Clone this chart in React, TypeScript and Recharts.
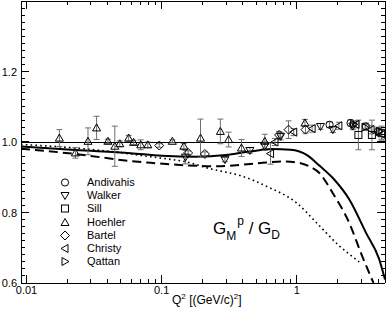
import React from "react";
import {
  ComposedChart,
  Line,
  Scatter,
  XAxis,
  YAxis,
  ReferenceLine,
  ErrorBar,
} from "recharts";

// model curves: Q^2 [(GeV/c)^2] and G_M^p / G_D
const solidQ2 = [0.0091, 0.023, 0.059, 0.1, 0.18, 0.3, 0.45, 0.65, 0.9, 1.2, 1.47, 1.9, 2.45, 3.25, 4.07, 4.5];
const solidRatio = [0.987, 0.977, 0.968, 0.961, 0.958, 0.963, 0.973, 0.98, 0.978, 0.962, 0.933, 0.893, 0.837, 0.743, 0.668, 0.61];

const dashedQ2 = [0.0091, 0.023, 0.059, 0.083, 0.15, 0.25, 0.4, 0.6, 0.8, 1.04, 1.25, 1.47, 1.84, 2.45, 3.05, 3.7];
const dashedRatio = [0.981, 0.966, 0.946, 0.941, 0.934, 0.931, 0.936, 0.942, 0.945, 0.941, 0.93, 0.912, 0.856, 0.77, 0.676, 0.6];

const dottedQ2 = [0.0091, 0.023, 0.059, 0.083, 0.12, 0.163, 0.21, 0.27, 0.38, 0.6, 1.0, 1.4, 2.07, 2.9];
const dottedRatio = [0.993, 0.983, 0.966, 0.958, 0.95, 0.941, 0.928, 0.918, 0.905, 0.874, 0.827, 0.771, 0.705, 0.66];

// measurements
const andivahisQ2 = [1.75, 2.5, 3.25, 4.0];
const andivahisRatio = [1.049, 1.054, 1.044, 1.03];
const andivahisErr = [0.008, 0.009, 0.01, 0.012];

const walkerQ2 = [0.15, 0.294, 0.45, 0.58, 0.76, 1.5, 1.85, 2.6];
const walkerRatio = [0.957, 0.95, 0.976, 0.988, 1.016, 1.044, 1.035, 1.045];
const walkerErr = [0.019, 0.006, 0.008, 0.012, 0.01, 0.008, 0.008, 0.01];

const sillQ2 = [2.86, 3.6, 4.25];
const sillRatio = [1.02, 1.02, 1.025];
const sillErr = [0.042, 0.042, 0.02];

const hoehlerQ2 = [0.0175, 0.023, 0.0285, 0.033, 0.04, 0.045, 0.049, 0.057, 0.062, 0.07, 0.079, 0.12, 0.146, 0.194, 0.272, 0.313, 0.39, 0.58, 1.15];
const hoehlerRatio = [1.011, 0.969, 1.002, 1.04, 1.002, 0.988, 0.995, 1.011, 0.999, 0.992, 0.992, 1.002, 0.988, 1.011, 1.03, 1.007, 0.983, 1.002, 1.054];
const hoehlerErr = [0.024, 0.015, 0.038, 0.033, 0.006, 0.057, 0.008, 0.008, 0.006, 0.014, 0.008, 0.004, 0.008, 0.054, 0.035, 0.021, 0.024, 0.02, 0.01];

const bartelQ2 = [0.096, 0.157, 0.209, 0.74, 0.87, 1.16];
const bartelRatio = [0.99, 0.969, 0.966, 1.02, 1.035, 1.035];
const bartelErr = [0.005, 0.006, 0.006, 0.01, 0.025, 0.01];

const christyQ2 = [0.64, 0.69, 0.95, 1.3, 2.05, 2.75, 3.55, 4.25];
const christyRatio = [0.967, 1.0, 1.028, 1.038, 1.046, 1.05, 1.035, 1.022];
const christyErr = [0.03, 0.01, 0.01, 0.01, 0.01, 0.01, 0.012, 0.014];

const qattanQ2 = [2.64, 3.2, 4.1];
const qattanRatio = [1.05, 1.042, 1.03];
const qattanErr = [0.008, 0.008, 0.01];

// axis ticks
const xMajorTicks = [0.01, 0.1, 1];
const xMajorLabels = ["0.01", "0.1", "1"];
const yMajorTicks = [0.6, 0.8, 1.0, 1.2];
const yMajorLabels = ["0.6", "0.8", "1.0", "1.2"];

const X_DOMAIN = [0.0091, 4.5];
const Y_DOMAIN = [0.6, 1.4];
const FONT = "'Liberation Sans', Arial, Helvetica, sans-serif";

// plot box (chart margins + axis sizes below)
const W = 387;
const H = 316;
const PLOT = { left: 21, right: W - 2, top: 1, bottom: H - 33 };

const xTicks: number[] = [];
[0.01, 0.1, 1].forEach((d) => {
  for (let i = 1; i <= 9; i++) {
    const v = +(d * i).toPrecision(3);
    if (v <= X_DOMAIN[1]) xTicks.push(v);
  }
});
const yTicks: number[] = [];
for (let i = 0; i <= 40; i++) yTicks.push(+(0.6 + i * 0.02).toFixed(2));

const pts = (q: number[], r: number[], e?: number[]) =>
  q.map((v, i) => ({ q: v, r: r[i], e: e ? e[i] : 0 }));

type Kind = "circle" | "down" | "square" | "up" | "diamond" | "left" | "right";

function markerPath(kind: Kind, cx: number, cy: number) {
  const s = 4;
  switch (kind) {
    case "circle":
      return <circle cx={cx} cy={cy} r={3.6} />;
    case "square":
      return <rect x={cx - 3.5} y={cy - 3.5} width={7} height={7} />;
    case "up":
      return <polygon points={`${cx - s},${cy + 3} ${cx + s},${cy + 3} ${cx},${cy - s}`} />;
    case "down":
      return <polygon points={`${cx - s},${cy - 3} ${cx + s},${cy - 3} ${cx},${cy + s}`} />;
    case "diamond":
      return <polygon points={`${cx},${cy - 4.5} ${cx + 4.5},${cy} ${cx},${cy + 4.5} ${cx - 4.5},${cy}`} />;
    case "left":
      return <polygon points={`${cx + 3},${cy - s} ${cx + 3},${cy + s} ${cx - s},${cy}`} />;
    default:
      return <polygon points={`${cx - 3},${cy - s} ${cx - 3},${cy + s} ${cx + s},${cy}`} />;
  }
}

const series: { name: string; kind: Kind; data: { q: number; r: number; e: number }[] }[] = [
  { name: "Andivahis", kind: "circle", data: pts(andivahisQ2, andivahisRatio, andivahisErr) },
  { name: "Walker", kind: "down", data: pts(walkerQ2, walkerRatio, walkerErr) },
  { name: "Sill", kind: "square", data: pts(sillQ2, sillRatio, sillErr) },
  { name: "Hoehler", kind: "up", data: pts(hoehlerQ2, hoehlerRatio, hoehlerErr) },
  { name: "Bartel", kind: "diamond", data: pts(bartelQ2, bartelRatio, bartelErr) },
  { name: "Christy", kind: "left", data: pts(christyQ2, christyRatio, christyErr) },
  { name: "Qattan", kind: "right", data: pts(qattanQ2, qattanRatio, qattanErr) },
];

const isMajor = (v: number, list: number[]) => list.findIndex((m) => Math.abs(m - v) < 1e-9);
const isMajorY = (v: number) => Math.abs(v * 5 - Math.round(v * 5)) < 1e-6;

// same log / linear mapping the chart axes use, only for the frame tick stubs
const lx0 = Math.log(X_DOMAIN[0]);
const lx1 = Math.log(X_DOMAIN[1]);
const tickX = (v: number) => PLOT.left + ((Math.log(v) - lx0) / (lx1 - lx0)) * (PLOT.right - PLOT.left);
const tickY = (v: number) => PLOT.bottom - ((v - Y_DOMAIN[0]) / (Y_DOMAIN[1] - Y_DOMAIN[0])) * (PLOT.bottom - PLOT.top);

// axis labels only (text)
const BottomLabel = (p: any) => {
  const idx = isMajor(p.payload.value, xMajorTicks);
  if (idx < 0) return <g />;
  return (
    <text x={p.x} y={p.y + 11} textAnchor="middle" fontSize={11} fontFamily={FONT} fill="#000">
      {xMajorLabels[idx]}
    </text>
  );
};
const LeftLabel = (p: any) => {
  const idx = isMajor(p.payload.value, yMajorTicks);
  if (idx < 0) return <g />;
  return (
    <text x={p.x - 4} y={p.y + 4} textAnchor="end" fontSize={11} fontFamily={FONT} fill="#000">
      {yMajorLabels[idx]}
    </text>
  );
};

export default function App() {
  return (
    <div style={{ position: "absolute", left: 0, top: 0, width: W, height: H, background: "#fff", fontFamily: FONT }}>
      <ComposedChart width={W} height={H} margin={{ top: 0, right: 1, bottom: 0, left: 0 }}>
        <XAxis
          xAxisId="b"
          dataKey="q"
          type="number"
          scale="log"
          domain={X_DOMAIN}
          allowDataOverflow
          ticks={xTicks}
          interval={0}
          height={33}
          tickSize={0}
          tickMargin={0}
          tickLine={false}
          axisLine={{ stroke: "#000", shapeRendering: "crispEdges" }}
          tick={BottomLabel}
        />
        <XAxis
          xAxisId="t"
          orientation="top"
          dataKey="q"
          type="number"
          scale="log"
          domain={X_DOMAIN}
          allowDataOverflow
          ticks={xTicks}
          height={1}
          tickLine={false}
          tick={false}
          axisLine={{ stroke: "#000", shapeRendering: "crispEdges" }}
        />
        <YAxis
          yAxisId="l"
          type="number"
          domain={Y_DOMAIN}
          allowDataOverflow
          ticks={yTicks}
          interval={0}
          width={21}
          tickSize={0}
          tickMargin={0}
          tickLine={false}
          axisLine={{ stroke: "#000", shapeRendering: "crispEdges" }}
          tick={LeftLabel}
        />
        <YAxis
          yAxisId="r"
          orientation="right"
          type="number"
          domain={Y_DOMAIN}
          allowDataOverflow
          width={1}
          tickLine={false}
          tick={false}
          axisLine={{ stroke: "#000", shapeRendering: "crispEdges" }}
        />

        <ReferenceLine xAxisId="b" yAxisId="l" y={1} stroke="#000" strokeWidth={1} shapeRendering="crispEdges" />

        <Line xAxisId="b" yAxisId="l" data={pts(dottedQ2, dottedRatio)} dataKey="r" type="monotone"
          stroke="#000" strokeWidth={1.6} strokeDasharray="1.6 3.2" dot={false} isAnimationActive={false} />
        <Line xAxisId="b" yAxisId="l" data={pts(dashedQ2, dashedRatio)} dataKey="r" type="monotone"
          stroke="#000" strokeWidth={2} strokeDasharray="9 5" dot={false} isAnimationActive={false} />
        <Line xAxisId="b" yAxisId="l" data={pts(solidQ2, solidRatio)} dataKey="r" type="monotone"
          stroke="#000" strokeWidth={2} dot={false} isAnimationActive={false} />

        {series.map((s) => (
          <Scatter
            key={s.name}
            name={s.name}
            xAxisId="b"
            yAxisId="l"
            data={s.data}
            dataKey="r"
            isAnimationActive={false}
            shape={(p: any) => (
              <g fill="none" stroke="#000" strokeWidth={1}>
                {markerPath(s.kind, p.cx, p.cy)}
              </g>
            )}
          >
            <ErrorBar dataKey="e" direction="y" width={3} stroke="#6e6e6e" strokeWidth={1} />
          </Scatter>
        ))}
      </ComposedChart>

      {/* legend */}
      <div style={{ position: "absolute", left: 58, top: 176, fontSize: 11, lineHeight: "13.2px", color: "#000" }}>
        {series.map((s) => (
          <div key={s.name} style={{ display: "flex", alignItems: "center", height: 13.2 }}>
            <svg width={14} height={13} style={{ display: "block" }}>
              <g fill="none" stroke="#000" strokeWidth={1}>
                {markerPath(s.kind, 7, 6.5)}
              </g>
            </svg>
            <span style={{ marginLeft: 15 }}>{s.name}</span>
          </div>
        ))}
      </div>

      {/* inward frame ticks, annotation and axis title */}
      <svg width={W} height={H} style={{ position: "absolute", left: 0, top: 0, pointerEvents: "none" }}>
        <g fill="#000">
          {xTicks.map((v) => {
            const len = isMajor(v, xMajorTicks) >= 0 ? 8 : 4;
            const x = Math.floor(tickX(v));
            return (
              <g key={`x${v}`}>
                <rect x={x} y={PLOT.bottom - len} width={1} height={len} />
                <rect x={x} y={PLOT.top} width={1} height={len} />
              </g>
            );
          })}
          {yTicks.map((v) => {
            const len = isMajorY(v) ? 8 : 4;
            const y = Math.floor(tickY(v));
            return (
              <g key={`y${v}`}>
                <rect x={PLOT.left} y={y} width={len} height={1} />
                <rect x={PLOT.right - len} y={y} width={len} height={1} />
              </g>
            );
          })}
        </g>
        <text x={213} y={233.5} fontFamily={FONT} fontSize={17} fill="#000">
          G<tspan fontSize={12} dy={6.5}>M</tspan>
          <tspan fontSize={12} dy={-15} dx={1}>p</tspan>
          <tspan dy={8.5}> / G</tspan>
          <tspan fontSize={12} dy={5}>D</tspan>
        </text>
        <text x={172} y={304} fontFamily={FONT} fontSize={12} fill="#000">
          Q<tspan fontSize={8} dy={-5}>2</tspan>
          <tspan dy={5}> [(GeV/c)</tspan>
          <tspan fontSize={8} dy={-5}>2</tspan>
          <tspan dy={5}>]</tspan>
        </text>
      </svg>
    </div>
  );
}
